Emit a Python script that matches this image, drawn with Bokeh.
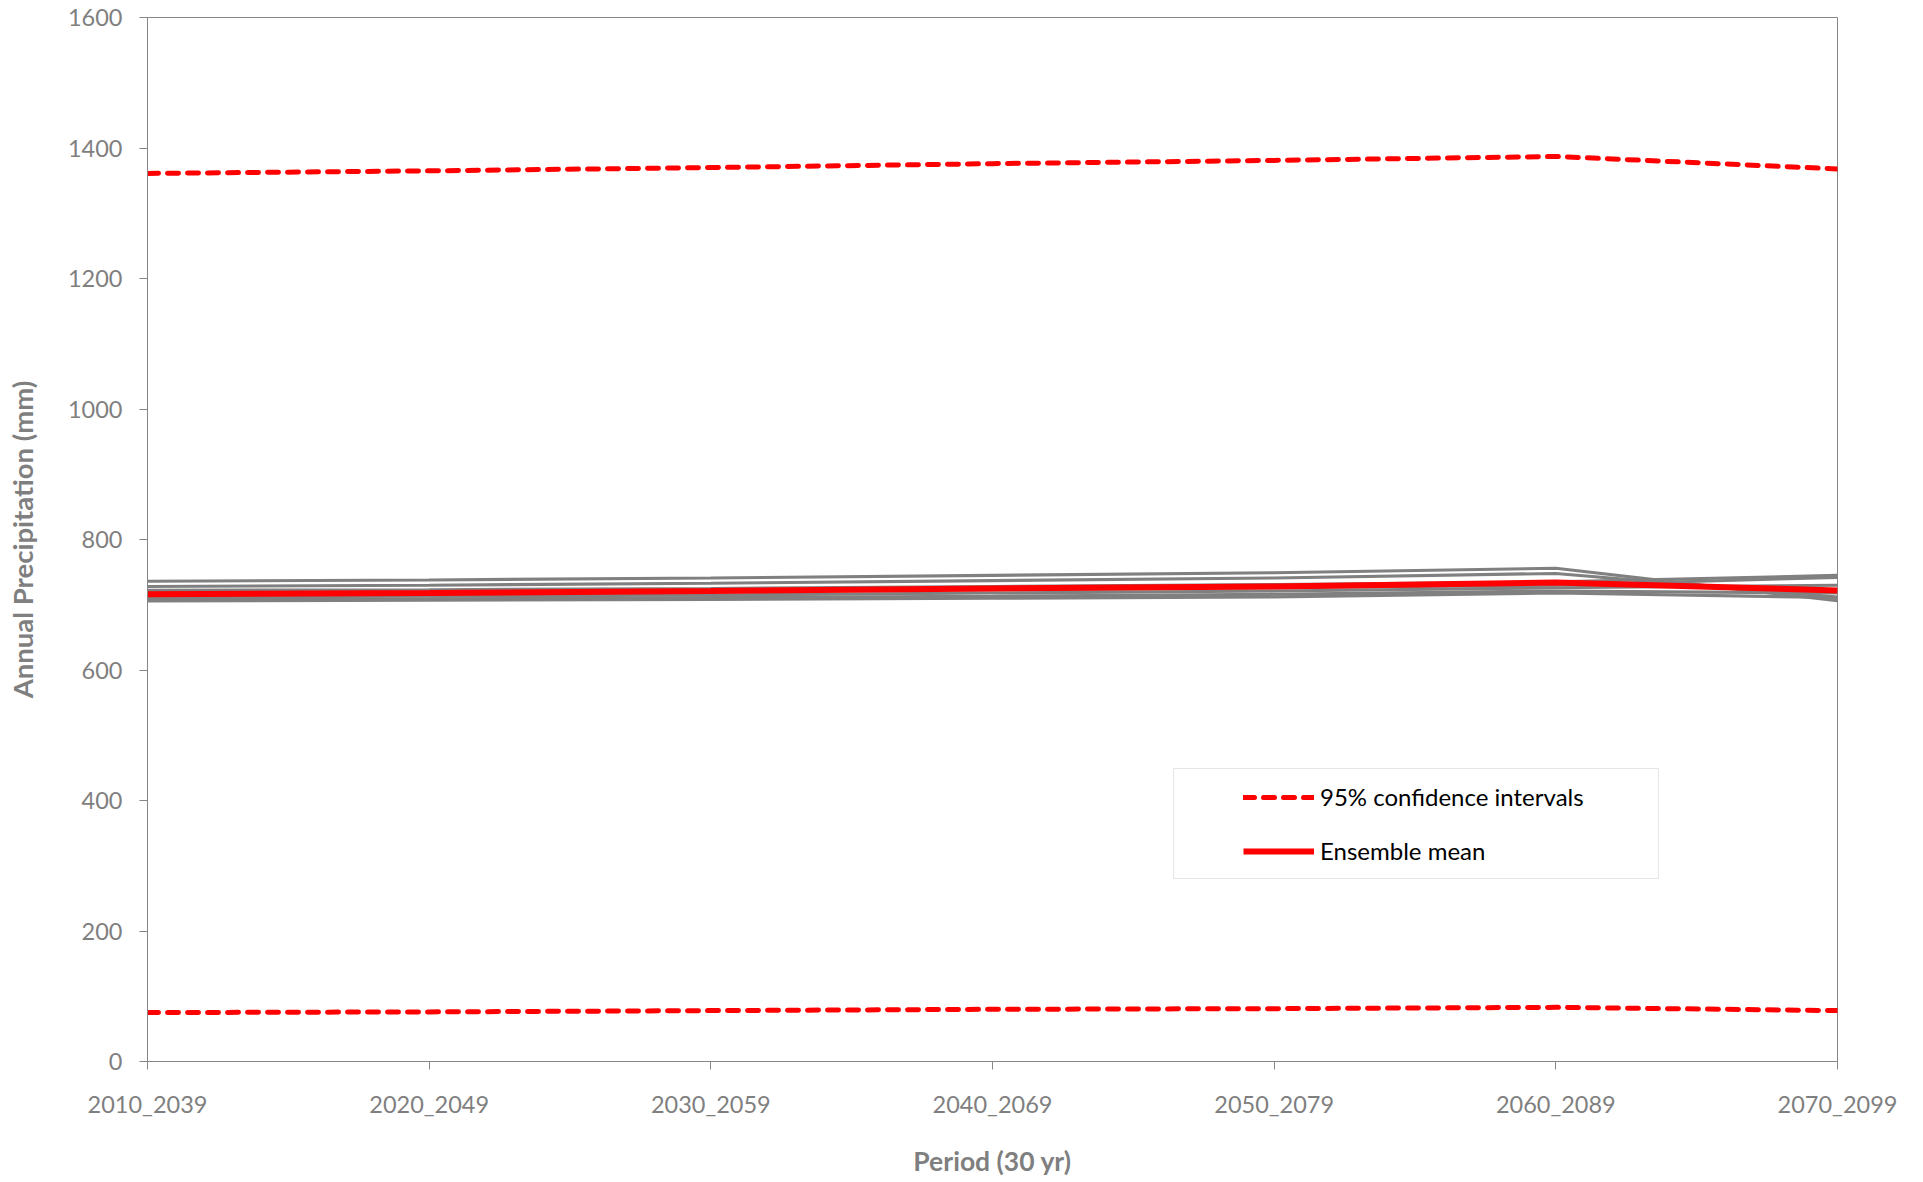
from bokeh.plotting import figure
from bokeh.models import Legend, LegendItem, FixedTicker, Range1d, BoxAnnotation
from bokeh.embed import file_html
from bokeh.resources import INLINE

periods = ["2010_2039", "2020_2049", "2030_2059", "2040_2069", "2050_2079", "2060_2089", "2070_2099"]
xs = list(range(len(periods)))

member_1 = [736, 738, 741, 745, 749, 756, 706]
member_2 = [728, 730, 733, 737, 741, 748, 712]
member_3 = [722, 723, 725, 728, 731, 735, 745]
member_4 = [718, 719, 721, 723, 726, 730, 742]
member_5 = [712, 713, 715, 718, 721, 726, 730]
member_6 = [708, 709, 711, 713, 716, 721, 718]
member_7 = [706, 707, 708, 710, 712, 718, 711]
members = [member_1, member_2, member_3, member_4, member_5, member_6, member_7]

ensemble_mean = [716, 718, 721, 725, 728, 734, 722]
ci_upper = [1361, 1365, 1370, 1376, 1381, 1387, 1368]
ci_lower = [75, 76, 78, 80, 81, 83, 78]

y_ticks = [0, 200, 400, 600, 800, 1000, 1200, 1400, 1600]

GRAY_TXT = "#7f7f7f"
AXIS = "#868686"
FONT = "Lato"

p = figure(width=1920, height=1182, output_backend="svg", toolbar_location=None,
           x_range=Range1d(0, 6), y_range=Range1d(0, 1600),
           min_border_left=147, min_border_right=83, min_border_top=17, min_border_bottom=121)

p.background_fill_color = "white"
p.border_fill_color = "white"
p.outline_line_color = AXIS
p.outline_line_width = 1
p.xgrid.visible = False
p.ygrid.visible = False

for m in members:
    p.line(xs, m, line_color="#808080", line_width=3.1)

r_mean = p.line(xs, ensemble_mean, line_color="#ff0000", line_width=6)
r_up = p.line(xs, ci_upper, line_color="#ff0000", line_width=5, line_dash="11 9", line_cap="round")
r_lo = p.line(xs, ci_lower, line_color="#ff0000", line_width=5, line_dash="11 9", line_cap="round")

# axes
p.xaxis.ticker = FixedTicker(ticks=xs)
p.xaxis.major_label_overrides = {i: lab for i, lab in zip(xs, periods)}
p.yaxis.ticker = FixedTicker(ticks=y_ticks)
for ax in (p.xaxis[0], p.yaxis[0]):
    ax.axis_line_color = AXIS
    ax.major_tick_line_color = AXIS
    ax.major_tick_out = 8
    ax.major_tick_in = 0
    ax.minor_tick_line_color = None
    ax.major_label_text_font = FONT
    ax.major_label_text_font_size = "23.5px"
    ax.major_label_text_color = GRAY_TXT
    ax.axis_label_text_font = FONT
    ax.axis_label_text_font_style = "bold"
    ax.axis_label_text_color = GRAY_TXT

p.xaxis.axis_label_text_font_size = "26.5px"
p.yaxis.axis_label_text_font_size = "27.5px"
p.xaxis.axis_label = "Period (30 yr)"
p.yaxis.axis_label = "Annual Precipitation (mm)"
p.xaxis.major_label_standoff = 20
p.yaxis.major_label_standoff = 17
p.xaxis.axis_label_standoff = 24
p.yaxis.axis_label_standoff = 26

box = BoxAnnotation(left=3.643, right=5.364, bottom=280.5, top=449,
                    fill_color="white", fill_alpha=1.0,
                    line_color="#a6a6a6", line_width=1)
p.add_layout(box)

legend = Legend(items=[LegendItem(label="95% confidence intervals", renderers=[r_up]),
                       LegendItem(label="Ensemble mean", renderers=[r_mean])],
                location=(1080, 180))
legend.label_text_font = FONT
legend.label_text_font_size = "24px"
legend.label_text_color = "black"
legend.glyph_width = 71
legend.glyph_height = 24
legend.label_height = 24
legend.label_standoff = 6
legend.spacing = 25
legend.padding = 16
legend.margin = 0
legend.border_line_alpha = 0
legend.background_fill_alpha = 0
p.add_layout(legend)

open("out.html", "w").write(file_html(p, INLINE))
